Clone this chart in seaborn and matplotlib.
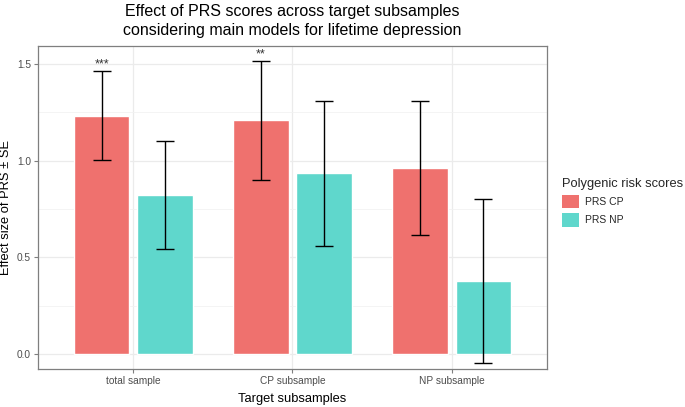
import matplotlib
matplotlib.use('Agg')
import matplotlib.pyplot as plt
from matplotlib.patches import Patch
import seaborn as sns
import pandas as pd

samples = ['total sample', 'CP subsample', 'NP subsample']
scores = ['PRS CP', 'PRS NP']
effect_cp = [1.233, 1.208, 0.962]
effect_np = [0.823, 0.934, 0.380]
se_cp = [0.230, 0.307, 0.348]
se_np = [0.280, 0.374, 0.423]
stars_cp = ['***', '**', '']
stars_np = ['', '', '']

colors = ['#EF716E', '#5FD7CC']


def main():
    sns.set_theme(style='whitegrid')
    plt.rcParams['font.family'] = ['Liberation Sans', 'DejaVu Sans']

    df = pd.DataFrame({
        'sample': samples * 2,
        'prs': [scores[0]] * 3 + [scores[1]] * 3,
        'effect': effect_cp + effect_np,
        'se': se_cp + se_np,
        'stars': stars_cp + stars_np,
    })

    fig = plt.figure(figsize=(6.85, 4.07), dpi=100)
    ax = fig.add_axes([0.0555, 0.0934, 0.743, 0.7936])

    sns.barplot(data=df, x='sample', y='effect', hue='prs', order=samples,
                hue_order=scores, palette=colors, width=0.8, gap=0.125,
                errorbar=None, saturation=1, legend=False, ax=ax, zorder=2)

    # centres of the bars, in the order seaborn drew them (hue by hue)
    bars = [p for p in ax.patches if p.get_height() != 0 or p.get_width() != 0]
    xs = [p.get_x() + p.get_width() / 2 for p in bars]
    ax.errorbar(xs, df['effect'], yerr=df['se'], fmt='none', ecolor='black',
                elinewidth=1.0, capsize=6.5, capthick=1.0, zorder=3)
    for x, y, e, s in zip(xs, df['effect'], df['se'], df['stars']):
        if s:
            ax.text(x, y + e + 0.004, s, ha='center', va='bottom',
                    fontsize=9, color='#333333')

    ax.set_xlim(-0.6, 2.6)
    ax.set_ylim(-0.076, 1.592)
    ax.set_yticks([0.0, 0.5, 1.0, 1.5])
    ax.set_yticklabels(['0.0', '0.5', '1.0', '1.5'])
    ax.set_yticks([0.25, 0.75, 1.25], minor=True)
    ax.grid(which='major', color='#EBEBEB', linewidth=0.9, zorder=0)
    ax.grid(which='minor', axis='y', color='#F2F2F2', linewidth=0.6, zorder=0)
    ax.set_axisbelow(True)
    for sp in ax.spines.values():
        sp.set_color('#7F7F7F')
        sp.set_linewidth(0.9)
    ax.tick_params(axis='both', which='major', length=3, width=0.8,
                   color='#7F7F7F', labelsize=7.3, labelcolor='#4D4D4D', pad=2,
                   left=True, bottom=True)
    ax.tick_params(which='minor', length=0)

    ax.set_xlabel('Target subsamples', fontsize=9.3, color='black', labelpad=5)
    ax.set_ylabel('Effect size of PRS \u00b1 SE', fontsize=9.3, color='black')
    ax.yaxis.set_label_coords(-0.051, 0.5)
    ax.set_title('Effect of PRS scores across target subsamples\n'
                 'considering main models for lifetime depression',
                 fontsize=11.5, color='black', pad=8, linespacing=1.3)

    handles = [Patch(facecolor=c, edgecolor='none') for c in colors]
    fig.legend(handles, scores, title='Polygenic risk scores', loc='upper left',
               bbox_to_anchor=(0.8204, 0.563), frameon=False, fontsize=7.5,
               title_fontsize=9.3, handlelength=1.65, handleheight=1.65,
               handletextpad=0.6, labelspacing=0.45, alignment='left',
               borderpad=0, borderaxespad=0)

    fig.savefig('out.png', dpi=100)


if __name__ == '__main__':
    main()
